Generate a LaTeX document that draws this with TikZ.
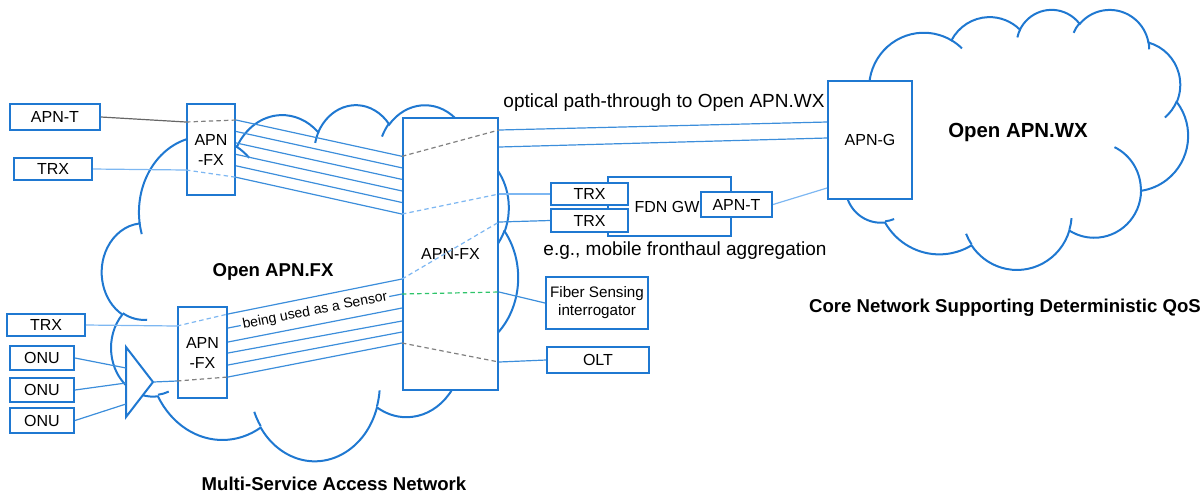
\documentclass[tikz,border=0pt]{standalone}
\usepackage{fontspec}
\setmainfont{Liberation Sans}
\usepackage{tikz}
\usetikzlibrary{calc}
\definecolor{ApnBlue}{HTML}{1F78D1}
\definecolor{FiberBlue}{HTML}{3C8EDB}
\definecolor{TrxBlue}{HTML}{7DB7F2}
\definecolor{PassGray}{HTML}{808080}
\definecolor{SenseGreen}{HTML}{2EC46A}

% office style cloud, frame in px: left, top, width, height
\newcommand{\netcloud}[4]{%
  \begin{scope}[shift={(#1,#2)}, x=1pt, y=1pt, xscale=#3/86.4, yscale=-#4/86.4]
    \draw[cloudline] (3.9,14.37)
      foreach \rx/\ry/\sa/\sw [evaluate=\sa as \ps using {atan2(\rx*sin(\sa),\ry*cos(\sa))},
                               evaluate=\sa as \dd using {mod(atan2(\rx*sin(\sa+\sw),\ry*cos(\sa+\sw))-(\ps)+720,360)}]
      in {6.753/9.190/-190.4875/123.7805, 5.333/7.267/-144.1024/89.9452,
          4.365/5.945/-145.8079/99.7230, 4.857/6.595/-130.9861/117.2417,
          5.333/7.273/-78.7089/109.0269, 6.775/9.220/-46.2673/130.2690,
          5.785/7.867/0.6250/114.0333, 6.752/9.215/22.4516/115.1726,
          7.720/10.543/66.2426/75.7110, 4.360/5.918/-274.9421/146.7356,
          4.345/5.945/-246.8285/152.5189}
      { arc[start angle=\ps, delta angle=\dd, x radius=\rx pt, y radius=\ry pt] } -- cycle;
    \draw[cloudline]
      foreach \px/\py/\rx/\ry/\sa/\sw [evaluate=\sa as \ps using {atan2(\rx*sin(\sa),\ry*cos(\sa))},
                                       evaluate=\sa as \dd using {mod(atan2(\rx*sin(\sa+\sw),\ry*cos(\sa+\sw))-(\ps)+720,360)}]
      in {4.693/26.177/4.345/5.945/86.7420/26.4295, 6.928/34.899/4.360/5.918/73.6105/11.4475,
          16.478/39.090/6.752/9.215/137.6242/14.0811, 28.827/34.751/6.752/9.215/6.4533/15.9984,
          34.129/22.954/5.785/7.867/-70.2924/70.9174, 41.798/15.354/5.333/7.273/30.3180/27.7515,
          38.324/5.426/4.857/6.595/-13.7443/14.8589, 29.078/3.952/4.857/6.595/-149.1815/18.1954,
          22.141/4.720/4.365/5.945/-163.4943/17.6864, 14.000/5.192/6.753/9.190/-66.7070/12.3194,
          4.127/15.789/6.753/9.190/157.6544/11.8582}
      { (\px,\py) arc[start angle=\ps, delta angle=\dd, x radius=\rx pt, y radius=\ry pt] };
  \end{scope}}

\begin{document}
\begin{tikzpicture}[x=0.5pt, y=-0.5pt,
  box/.style={draw=ApnBlue, line width=1pt, fill=white, align=center, inner sep=0pt, font=\fontsize{8}{10}\selectfont},
  cloudline/.style={draw=ApnBlue, line width=1pt},
  fiber/.style={draw=FiberBlue, line width=0.6pt},
  trxline/.style={draw=TrxBlue, line width=0.6pt},
  through/.style={dash pattern=on 2.2pt off 1.6pt, line width=0.6pt},
  note/.style={font=\fontsize{9.5}{11}\selectfont},
  title/.style={font=\fontsize{9.3}{11}\selectfont\bfseries}
]
\useasboundingbox (0,0) rectangle (1204,495);

% clouds
\netcloud{102}{104}{416}{356}
\netcloud{838}{9}{350}{260}

% boxes
\node[box, minimum width=45pt, minimum height=13pt] (apnt) at (55,117) {APN-T};
\node[box, minimum width=39pt, minimum height=11pt] (trxa) at (53,169) {TRX};
\node[box, minimum width=24pt, minimum height=45.5pt] (fxa) at (211,149.5) {APN\\-FX};
\node[box, minimum width=47.5pt, minimum height=136pt] (fxc) at (450.5,254) {APN-FX};
\node[box, minimum width=24.5pt, minimum height=45.5pt] (fxb) at (202.5,352.5) {APN\\-FX};
\node[box, minimum width=39pt, minimum height=11pt] (trxb) at (46,325) {TRX};
\node[box, minimum width=32pt, minimum height=12pt] (onua) at (42,358) {ONU};
\node[box, minimum width=32pt, minimum height=12pt] (onub) at (42,390) {ONU};
\node[box, minimum width=32pt, minimum height=12.5pt] (onuc) at (42,420.5) {ONU};
\node[box, minimum width=61.5pt, minimum height=29.5pt] (fdngw) at (669.5,206.5) {\hspace*{-2.5pt}FDN GW};
\node[box, minimum width=38.5pt, minimum height=11pt] (trxc) at (589.5,194) {TRX};
\node[box, minimum width=38.5pt, minimum height=11.5pt] (trxd) at (589.5,220.5) {TRX};
\node[box, minimum width=35.5pt, minimum height=12.5pt] (apntr) at (736.5,204.5) {APN-T};
\node[box, minimum width=42pt, minimum height=59pt] (apng) at (870,140) {\raisebox{-3pt}{APN-G}};
\node[box, minimum width=51pt, minimum height=26pt, font=\fontsize{7.6}{9}\selectfont] (sensor) at (597,303) {Fiber Sensing\\interrogator};
\node[box, minimum width=51pt, minimum height=13pt] (olt) at (598,360) {OLT};

\coordinate (ampt) at (126,347);
\coordinate (ampb) at (126,417);
\coordinate (ampo) at (153,382);
\draw[cloudline, fill=white] (ampt) -- (ampo) -- (ampb) -- cycle;

% labels
\node[title] (fxname) at (273,272) {Open APN.FX};
\node[title] (accessname) at (334,484) {Multi-Service Access Network};
\node[title, font=\fontsize{10.2}{12}\selectfont\bfseries] (wxname) at (1018,132) {Open APN.WX};
\node[title] (corename) at (1005,308) {Core Network Supporting Deterministic QoS};
\node[note] (optlabel) at (664,103) {optical path-through to Open APN.WX};
\node[note] (fhlabel) at (685,251) {e.g., mobile fronthaul aggregation};

% upper APN-FX to central APN-FX
\draw[line width=0.6pt, draw=PassGray!80!black] (apnt.east) -- ($(fxa.north west)+(0,19)$);
\draw[through, draw=PassGray] ($(fxa.north west)+(0,19)$) -- ($(fxa.north east)+(0,17)$);
\draw[trxline] (trxa.east) -- ($(fxa.north west)+(0,67)$);
\draw[through, draw=TrxBlue] ($(fxa.north west)+(0,67)$) -- ($(fxa.north east)+(0,74.25)$);
\draw[fiber] ($(fxa.north east)+(0,17)$) -- ($(fxc.north west)+(0,39.3)$);
\draw[fiber] ($(fxa.north east)+(0,28.45)$) -- ($(fxc.north west)+(0,50.85)$);
\draw[fiber] ($(fxa.north east)+(0,39.9)$) -- ($(fxc.north west)+(0,62.4)$);
\draw[fiber] ($(fxa.north east)+(0,51.35)$) -- ($(fxc.north west)+(0,73.95)$);
\draw[fiber] ($(fxa.north east)+(0,62.8)$) -- ($(fxc.north west)+(0,85.5)$);
\draw[fiber] ($(fxa.north east)+(0,74.25)$) -- ($(fxc.north west)+(0,97.05)$);

% central APN-FX to the right
\draw[through, draw=PassGray] ($(fxc.north west)+(0,39.3)$) -- ($(fxc.north east)+(0,13)$);
\draw[fiber] ($(fxc.north east)+(0,13)$) -- ($(apng.north west)+(0,42)$);
\draw[fiber] ($(fxc.north east)+(0,30)$) -- ($(apng.north west)+(0,58)$);
\draw[through, draw=TrxBlue] ($(fxc.north west)+(0,97.05)$) -- ($(fxc.north east)+(0,77)$);
\draw[trxline] ($(fxc.north east)+(0,77)$) -- (trxc.west);
\draw[through, draw=TrxBlue] ($(fxc.north west)+(0,162)$) -- ($(fxc.north east)+(0,105)$);
\draw[fiber] ($(fxc.north east)+(0,105)$) -- (trxd.west);
\draw[through, draw=SenseGreen] ($(fxc.north west)+(0,177)$) -- ($(fxc.north east)+(0,175)$);
\draw[fiber] ($(fxc.north east)+(0,175)$) -- (sensor.west);
\draw[through, draw=PassGray] ($(fxc.north west)+(0,226)$) -- ($(fxc.north east)+(0,245)$);
\draw[fiber] ($(fxc.north east)+(0,245)$) -- (olt.west);
\draw[trxline] (apntr.east) -- ($(apng.north west)+(0,108)$);

% lower APN-FX
\draw[trxline] (trxb.east) -- ($(fxb.north west)+(0,20)$);
\draw[through, draw=TrxBlue] ($(fxb.north west)+(0,20)$) -- ($(fxb.north east)+(0,8)$);
\draw[fiber] ($(fxb.north east)+(0,8)$) -- ($(fxc.north west)+(0,162)$);
\draw[fiber] ($(fxb.north east)+(0,22)$) -- node[pos=0.5, sloped, fill=white, inner sep=1pt, font=\fontsize{7}{8}\selectfont] (senselabel) {being used as a Sensor} ($(fxc.north west)+(0,177)$);
\draw[fiber] ($(fxb.north east)+(0,36)$) -- ($(fxc.north west)+(0,191)$);
\draw[fiber] ($(fxb.north east)+(0,47)$) -- ($(fxc.north west)+(0,204)$);
\draw[fiber] ($(fxb.north east)+(0,59)$) -- ($(fxc.north west)+(0,215)$);
\draw[fiber] ($(fxb.north east)+(0,71)$) -- ($(fxc.north west)+(0,226)$);
\draw[fiber] (ampo) -- ($(fxb.north west)+(0,75)$);
\draw[through, draw=PassGray] ($(fxb.north west)+(0,75)$) -- ($(fxb.north east)+(0,71)$);
\draw[fiber] (onua.east) -- ($(ampt)!0.3!(ampb)$);
\draw[fiber] (onub.east) -- ($(ampt)!0.514!(ampb)$);
\draw[fiber] (onuc.east) -- ($(ampt)!0.814!(ampb)$);
\end{tikzpicture}
\end{document}
